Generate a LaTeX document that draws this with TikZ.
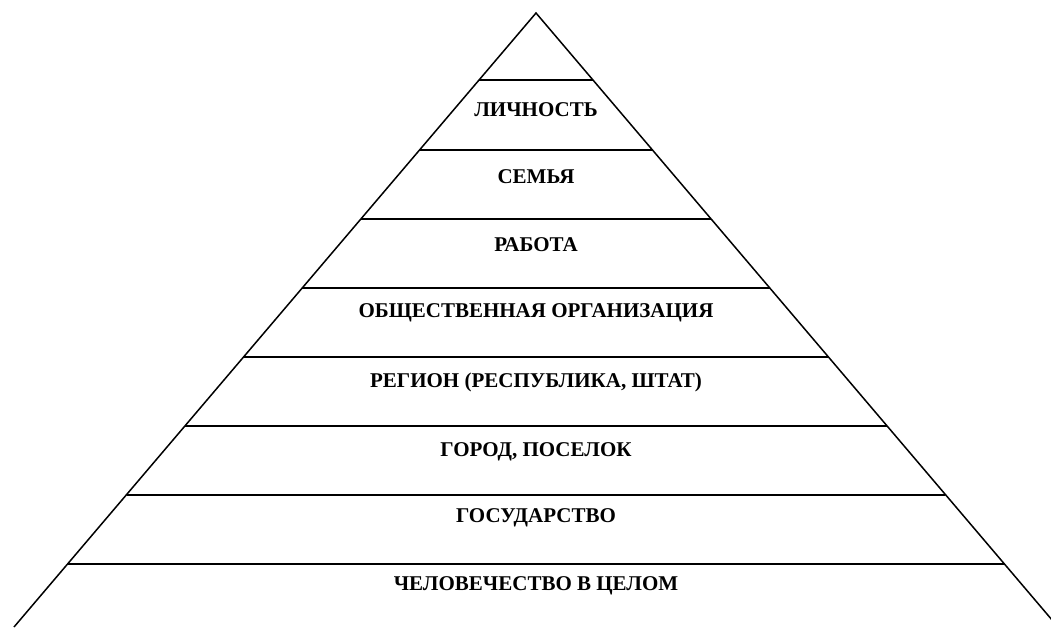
\documentclass[tikz,border=0pt]{standalone}
\usepackage{fontspec}
\setmainfont{Liberation Serif}
\begin{document}
\begin{tikzpicture}[x=1pt,y=-1pt,
  level/.style={font=\bfseries\fontsize{21}{24}\selectfont, inner sep=0pt},
  band/.style={line width=2.8pt},
  side/.style={line width=1.5pt}]
\useasboundingbox (0,0) rectangle (1051,627);
\coordinate (apex) at (536,13);
\coordinate (baseL) at (14,627);
\coordinate (baseR) at (1058,627);
\draw[side] (baseL) -- (apex) -- (baseR);
% horizontal bands
\foreach \y in {80,150,219,288,357,426,495,564}
  \draw[band] ({536-(\y-13)*0.8494},\y) -- ({536+(\y-13)*0.8494},\y);
\node[level] (lichnost) at (536,110) {ЛИЧНОСТЬ};
\node[level] (semya) at (536,177) {СЕМЬЯ};
\node[level] (rabota) at (536,245) {РАБОТА};
\node[level] (obshch) at (536,313) {ОБЩЕСТВЕННАЯ ОРГАНИЗАЦИЯ};
\node[level] (region) at (536,382) {РЕГИОН (РЕСПУБЛИКА, ШТАТ)};
\node[level] (gorod) at (536,452) {ГОРОД, ПОСЕЛОК};
\node[level] (gosud) at (536,518) {ГОСУДАРСТВО};
\node[level] (chelov) at (536,586) {ЧЕЛОВЕЧЕСТВО В ЦЕЛОМ};
\end{tikzpicture}
\end{document}
